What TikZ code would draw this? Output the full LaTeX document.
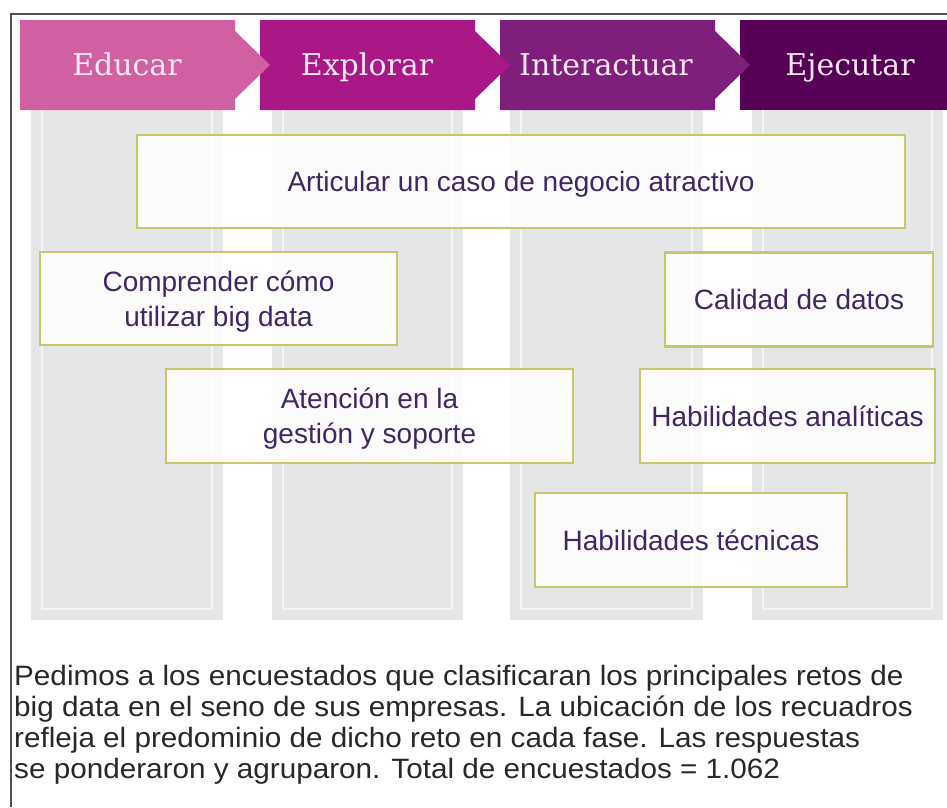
\documentclass[tikz,border=0pt]{standalone}
\usepackage{fontspec}
\newfontfamily\boxfont{Liberation Sans}
\newfontfamily\notefont[FakeStretch=1.06]{Liberation Sans}
\newfontfamily\hdrfont{DejaVu Serif}
\definecolor{cEdu}{RGB}{208,96,162}
\definecolor{cExp}{RGB}{170,24,136}
\definecolor{cInt}{RGB}{128,30,124}
\definecolor{cEje}{RGB}{86,0,86}
\definecolor{colgray}{RGB}{229,230,232}
\definecolor{colline}{RGB}{245,245,246}
\definecolor{boxedge}{RGB}{200,198,104}
\definecolor{boxtext}{RGB}{64,38,100}
\definecolor{hdrtext}{RGB}{246,232,242}
\definecolor{framecol}{RGB}{80,80,80}
\definecolor{notetext}{RGB}{40,40,40}
\tikzset{
  column/.style={fill=colgray},
  colinner/.style={draw=colline, line width=2pt},
  hdr/.style={font=\hdrfont\fontsize{30}{36}\selectfont, text=hdrtext, anchor=base, inner sep=0pt},
  chal/.style={draw=boxedge, line width=2.2pt, fill=white, fill opacity=0.86, text opacity=1,
    text=boxtext, font=\boxfont\fontsize{28}{35}\selectfont, align=center, inner sep=0pt,
    text depth=0pt},
  note/.style={font=\notefont\fontsize{28}{31}\selectfont, text=notetext, anchor=base west, inner sep=0pt}
}
\begin{document}
\begin{tikzpicture}[x=1pt,y=-1pt]
\useasboundingbox (0,0) rectangle (947,807);
\fill[white] (0,0) rectangle (947,807);
% frame
\draw[framecol, line width=2pt] (947,14) -- (11,14) -- (11,807);
% columns
\foreach \a/\b in {31/223, 272/463, 510/703, 752/943}{
  \fill[column] (\a,110) rectangle (\b,620);
  \draw[colinner] (\a+11,110) -- (\a+11,609) -- (\b-11,609) -- (\b-11,110);
}
% header bands (right to left so each arrow overlaps the next band)
\fill[cEje] (740,20) rectangle (947,110);
\fill[cInt] (500,20) -- (715,20) -- (715,31) -- (750,65) -- (715,99) -- (715,110) -- (500,110) -- cycle;
\fill[cExp] (260,20) -- (475,20) -- (475,31) -- (510,65) -- (475,99) -- (475,110) -- (260,110) -- cycle;
\fill[cEdu] (20,20) -- (235,20) -- (235,31) -- (270,65) -- (235,99) -- (235,110) -- (20,110) -- cycle;
\node[hdr] (hEdu) at (127,75) {Educar};
\node[hdr] (hExp) at (367,75) {Explorar};
\node[hdr] (hInt) at (606,75) {Interactuar};
\node[hdr] (hEje) at (850,75) {Ejecutar};
% challenge boxes
\node[chal, minimum width=768, minimum height=93] (b1) at (521,181.5) {Articular un caso de negocio atractivo};
\node[chal, minimum width=357, minimum height=93] (b2) at (218.5,298.5) {Comprender cómo\\utilizar big data};
\node[chal, minimum width=268, minimum height=94] (b3) at (799,299.5) {Calidad de datos};
\node[chal, minimum width=407, minimum height=94] (b4) at (369.5,416) {Atención en la\\gestión y soporte};
\node[chal, minimum width=295, minimum height=94] (b5) at (787.5,416) {Habilidades analíticas};
\node[chal, minimum width=312, minimum height=94] (b6) at (691,540) {Habilidades técnicas};
% note
\node[note] (n1) at (14,685) {Pedimos a los encuestados que clasificaran los principales retos de};
\node[note] (n2) at (14,716) {big data en el seno de sus empresas. La ubicación de los recuadros};
\node[note] (n3) at (14,747) {refleja el predominio de dicho reto en cada fase. Las respuestas};
\node[note] (n4) at (14,778) {se ponderaron y agruparon. Total de encuestados = 1.062};
\end{tikzpicture}
\end{document}
